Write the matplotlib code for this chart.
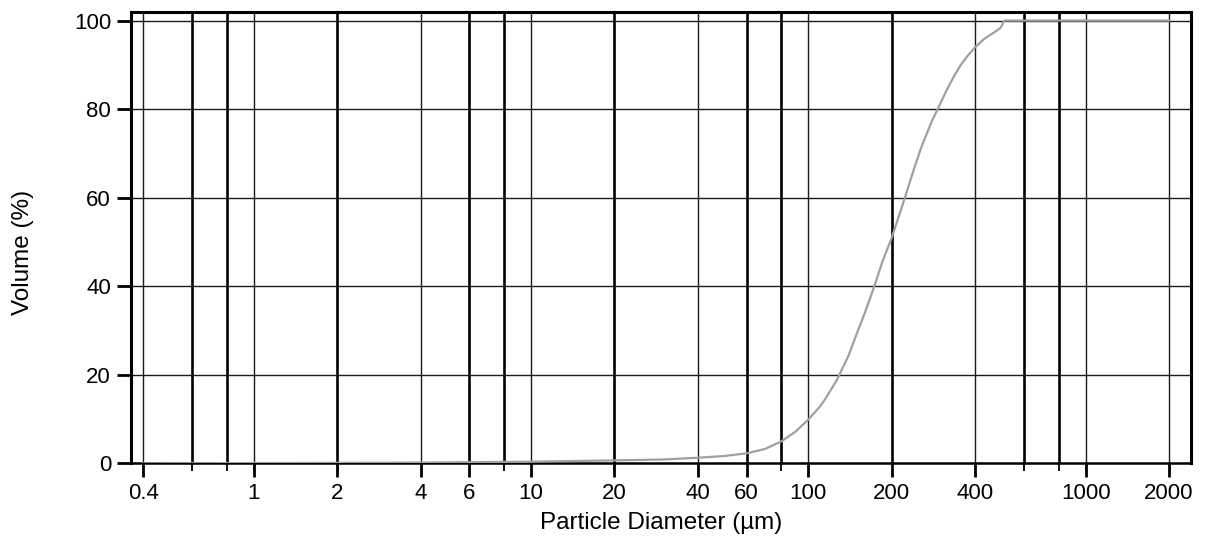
import matplotlib
matplotlib.use('Agg')
import matplotlib.pyplot as plt
from matplotlib.ticker import FixedLocator, NullFormatter

plt.rcParams['font.family'] = ['Liberation Sans', 'DejaVu Sans']

# cumulative volume curve
diameter = [0.4, 0.6, 1, 2, 4, 6, 10, 20, 30, 40, 50, 60, 70, 80, 90, 100,
            110, 115, 127, 140, 150, 160, 173, 185, 200, 216, 223, 240, 255,
            268, 280, 295, 315, 335, 355, 374, 400, 430, 454, 480, 493, 500,
            504, 510, 1000, 2000]
volume = [0.0, 0.05, 0.1, 0.15, 0.2, 0.3, 0.4, 0.7, 0.9, 1.3, 1.7, 2.3, 3.3,
          5.0, 7.2, 9.9, 12.8, 14.5, 18.9, 24.5, 29.5, 34, 40, 45.5, 51, 57.3,
          60, 66.3, 71.2, 74.6, 77.5, 80.4, 84.2, 87.4, 90.0, 91.9, 94, 95.8,
          96.8, 97.8, 98.3, 99.0, 99.6, 100, 100, 100]

major_ticks = [0.4, 1, 2, 4, 6, 10, 20, 40, 60, 100, 200, 400, 1000, 2000]
major_labels = ['0.4', '1', '2', '4', '6', '10', '20', '40', '60', '100',
                '200', '400', '1000', '2000']
minor_ticks = [0.6, 0.8, 8, 80, 600, 800]
thin_grid = [0.4, 1, 4, 10, 40, 100, 400, 1000, 2000]
thick_grid = [0.6, 0.8, 2, 6, 8, 20, 60, 80, 200, 600, 800]
y_ticks = [0, 20, 40, 60, 80, 100]

fig = plt.figure(figsize=(12.13, 5.38), dpi=100)
ax = fig.add_axes([0.1076, 0.1385, 0.9819 - 0.1076, 0.9783 - 0.1385])

for x in thin_grid:
    ax.axvline(x, color='#1a1a1a', lw=1.0, zorder=1)
for x in thick_grid:
    ax.axvline(x, color='black', lw=1.9, zorder=1)
for y in y_ticks[1:]:
    ax.axhline(y, color='#1a1a1a', lw=1.0, zorder=1)

ax.plot(diameter, volume, color='#a0a0a0', lw=1.6, zorder=3)

ax.set_xscale('log')
ax.set_xlim(0.36, 2400)
ax.set_ylim(0, 102)

ax.xaxis.set_major_locator(FixedLocator(major_ticks))
ax.set_xticklabels(major_labels)
ax.xaxis.set_minor_locator(FixedLocator(minor_ticks))
ax.xaxis.set_minor_formatter(NullFormatter())
ax.set_yticks(y_ticks)

ax.tick_params(axis='x', which='major', direction='out', length=10, width=2,
               labelsize=16, pad=4)
ax.tick_params(axis='x', which='minor', direction='out', length=6, width=1.3)
ax.tick_params(axis='y', direction='out', length=10, width=2, labelsize=16, pad=4)

for side in ['left', 'right', 'top']:
    ax.spines[side].set_linewidth(2.2)
ax.spines['bottom'].set_linewidth(1.8)

ax.set_xlabel('Particle Diameter (µm)', fontsize=17.5, labelpad=6)
fig.text(23 / 1213, 0.53, 'Volume (%)', rotation=90, fontsize=17.5,
         ha='center', va='center')

fig.savefig('out.png', dpi=100)
